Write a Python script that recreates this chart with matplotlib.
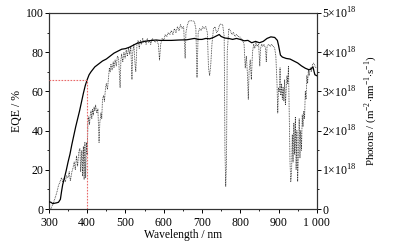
import matplotlib
matplotlib.use("Agg")
import matplotlib.pyplot as plt
from matplotlib.ticker import MultipleLocator, FixedLocator

plt.rcParams["font.family"] = ["Liberation Serif", "DejaVu Serif"]
plt.rcParams["mathtext.fontset"] = "custom"
plt.rcParams["mathtext.rm"] = "Liberation Serif"

# -----------------------------------------------------------------------------
# Data
# -----------------------------------------------------------------------------

eqe_wl = [300, 305, 310, 315, 320, 325, 330, 333, 336, 340, 345, 350, 355, 360, 365,
          370, 375, 380, 385, 390, 395, 400, 405, 410, 420, 430, 440, 450, 460, 470,
          480, 490, 500, 510, 520, 530, 540, 550, 560, 570, 580, 590, 600, 620, 640,
          660, 680, 690, 700, 710, 720, 730, 740, 745, 750, 760, 770, 780, 790, 800,
          810, 820, 830, 840, 850, 860, 870, 880, 890, 897, 900, 905, 910, 920, 930,
          940, 950, 960, 970, 980, 985, 990, 993, 995, 1000]
eqe_val = [3.7, 3.5, 2.8, 3.0, 3.2, 3.5, 5.0, 9.0, 12.5, 15.5, 19.5, 24.0, 28.0, 33.0, 37.5,
           42.0, 46.0, 50.0, 54.5, 59.0, 63.0, 66.0, 68.5, 70.0, 72.5, 74.0, 75.5, 76.5, 78.0, 79.5,
           80.5, 81.5, 81.8, 82.5, 83.5, 84.5, 85.0, 85.5, 85.8, 86.0, 86.2, 86.0, 86.0, 86.0, 86.2,
           86.3, 87.0, 86.5, 86.5, 87.0, 86.8, 87.5, 88.5, 89.0, 88.0, 87.2, 87.0, 86.5, 87.0, 86.5,
           85.8, 86.0, 84.8, 85.5, 84.8, 85.5, 87.0, 87.8, 87.5, 86.0, 83.5, 78.5, 77.5, 76.8, 76.5,
           75.5, 74.5, 73.0, 71.8, 71.0, 71.5, 72.5, 70.0, 68.5, 68.0]

# photon flux, units of 1e18 m^-2 nm^-1 s^-1
spec_wl = [305, 310, 315, 320, 325, 330, 333, 336, 340, 343, 346, 350, 353, 356, 360,
           363, 366, 369, 372, 375, 378, 381, 383, 386, 388, 390, 392, 394, 396, 398,
           400, 402, 404, 406, 408, 410, 412, 414, 416, 418, 420, 422, 425, 428, 431,
           433, 436, 438, 440, 443, 445, 448, 450, 453, 456, 458, 460, 462, 465, 468,
           470, 473, 476, 479, 482, 486, 488, 490, 493, 496, 499, 502, 505, 508, 511,
           514, 517, 519, 522, 525, 527, 530, 533, 536, 539, 542, 545, 548, 551, 554,
           557, 560, 563, 566, 570, 574, 578, 582, 586, 589, 592, 596, 600, 604, 608,
           612, 616, 620, 624, 628, 632, 636, 640, 644, 648, 652, 656, 658, 662, 666,
           670, 675, 680, 684, 687, 690, 694, 698, 702, 706, 710, 714, 717, 720, 723,
           726, 730, 734, 738, 742, 746, 750, 754, 758, 760, 762, 764, 766, 770, 774,
           778, 782, 786, 790, 794, 798, 802, 806, 810, 813, 816, 819, 821, 823, 826,
           829, 832, 835, 838, 841, 844, 848, 851, 853, 856, 859, 862, 866, 868, 870,
           874, 878, 882, 886, 890, 893, 896, 898, 900, 902, 904, 906, 908, 910, 912,
           914, 916, 918, 920, 922, 924, 926, 928, 930, 932, 934, 936, 938, 940, 942,
           944, 946, 948, 950, 952, 954, 956, 958, 960, 962, 964, 966, 968, 970, 972,
           974, 976, 978, 980, 983, 986, 989, 992, 995, 998, 1000]
spec_val = [0.0, 0.12, 0.25, 0.4, 0.6, 0.72, 0.8, 0.7, 0.78, 0.7, 0.85, 0.8, 0.95, 0.72, 0.95,
            1.05, 1.2, 1.0, 1.35, 1.1, 1.45, 1.55, 0.95, 1.5, 0.85, 1.6, 0.75, 1.7, 0.8, 1.7,
            1.4, 2.2, 2.35, 2.15, 2.4, 2.5, 2.3, 2.55, 2.4, 2.6, 2.5, 2.65, 2.45, 2.55, 1.7,
            2.2, 2.45, 2.3, 2.8, 2.9, 2.75, 3.1, 3.2, 3.05, 3.4, 3.6, 3.5, 3.7, 3.55, 3.75,
            3.6, 3.8, 3.65, 3.9, 3.85, 3.1, 3.8, 3.95, 3.75, 4.0, 3.85, 4.05, 3.9, 4.1, 3.95,
            4.15, 3.3, 4.0, 4.2, 3.7, 3.5, 4.2, 4.3, 4.1, 4.3, 4.2, 4.35, 4.25, 4.3, 4.2,
            4.35, 4.25, 4.3, 4.2, 4.35, 4.3, 4.25, 4.3, 4.2, 3.8, 4.2, 4.35, 4.3, 4.45, 4.4,
            4.5, 4.45, 4.55, 4.45, 4.6, 4.5, 4.65, 4.55, 4.7, 4.6, 4.65, 3.85, 4.5, 4.7, 4.8,
            4.8, 4.8, 4.78, 4.6, 3.35, 4.5, 4.6, 4.55, 4.65, 4.6, 4.65, 4.5, 3.6, 3.4, 3.7,
            4.2, 4.6, 4.65, 4.5, 4.55, 4.7, 4.72, 4.7, 4.4, 1.5, 0.57, 1.2, 4.0, 4.6, 4.55,
            4.45, 4.5, 4.4, 4.45, 4.4, 4.4, 4.35, 4.3, 4.2, 3.6, 3.9, 3.4, 2.8, 3.5, 3.8,
            3.3, 4.0, 4.2, 4.1, 4.25, 4.15, 4.2, 3.65, 4.1, 4.2, 4.15, 4.2, 4.1, 3.75, 4.15,
            4.2, 4.15, 4.2, 4.15, 4.1, 3.9, 3.2, 2.45, 3.1, 3.0, 3.6, 2.9, 3.2, 2.8, 3.1,
            2.75, 3.3, 2.65, 3.0, 3.4, 3.2, 3.65, 2.5, 1.2, 0.7, 0.9, 1.9, 1.2, 2.2, 1.4,
            2.35, 1.0, 2.0, 0.7, 1.4, 2.3, 1.3, 2.0, 1.5, 2.4, 2.1, 2.5, 2.3, 3.0, 2.8,
            3.4, 3.2, 3.55, 3.4, 3.6, 3.5, 3.7, 3.72, 3.65, 3.6, 3.6]

marker_wl = 400
marker_eqe = 66

x_ticks = [300, 400, 500, 600, 700, 800, 900, 1000]
x_labels = ["300", "400", "500", "600", "700", "800", "900", "1 000"]
right_ticks = [0, 1, 2, 3, 4, 5]
right_labels = ["0"] + [r"%d$\times$10$^{18}$" % v for v in right_ticks[1:]]

# -----------------------------------------------------------------------------
# Chart
# -----------------------------------------------------------------------------

fig = plt.figure(figsize=(4.01, 2.44), dpi=100)
ax = fig.add_axes([0.122, 0.143, 0.668, 0.804])
ax2 = ax.twinx()
# EQE curve and guide lines on top of the spectrum
ax.set_zorder(ax2.get_zorder() + 1)
ax.patch.set_visible(False)

ax.plot(eqe_wl, eqe_val, color="black", lw=0.9, zorder=3)
ax2.plot(spec_wl, spec_val, color="#333333", lw=0.6, ls=(0, (1, 1)), zorder=2)

red = "#e86a6a"
ax.plot([300, marker_wl], [marker_eqe, marker_eqe], color=red, lw=0.8, ls=(0, (1.5, 1.2)), zorder=4)
ax.plot([marker_wl, marker_wl], [0, marker_eqe], color=red, lw=0.8, ls=(0, (1.5, 1.2)), zorder=4)

ax.set_xlim(300, 1000)
ax.set_ylim(0, 100)
ax2.set_ylim(0, 5)

fs = 8.5
ax.xaxis.set_major_locator(FixedLocator(x_ticks))
ax.set_xticklabels(x_labels, fontsize=fs)
ax.xaxis.set_minor_locator(MultipleLocator(50))
ax.yaxis.set_major_locator(MultipleLocator(20))
ax.yaxis.set_minor_locator(MultipleLocator(10))
ax.tick_params(labelsize=fs)
ax2.yaxis.set_major_locator(FixedLocator(right_ticks))
ax2.set_yticklabels(right_labels, fontsize=fs)
ax2.yaxis.set_minor_locator(MultipleLocator(0.5))

for a in (ax, ax2):
    a.tick_params(which="major", direction="out", length=3, width=0.7, pad=1)
    a.tick_params(which="minor", direction="out", length=1.5, width=0.6)
    for s in a.spines.values():
        s.set_linewidth(0.8)
        s.set_color("#333333")
ax.tick_params(axis="x", which="major", pad=2.5)

ax.set_xlabel("Wavelength / nm", fontsize=8.3, labelpad=0)
ax.set_ylabel("EQE / %", fontsize=8.5, labelpad=2)
ax2.set_ylabel(r"Photons / (m$^{-2}$$\cdot$nm$^{-1}$$\cdot$s$^{-1}$)", fontsize=7.8, labelpad=4)

fig.savefig("out.png", dpi=100)
